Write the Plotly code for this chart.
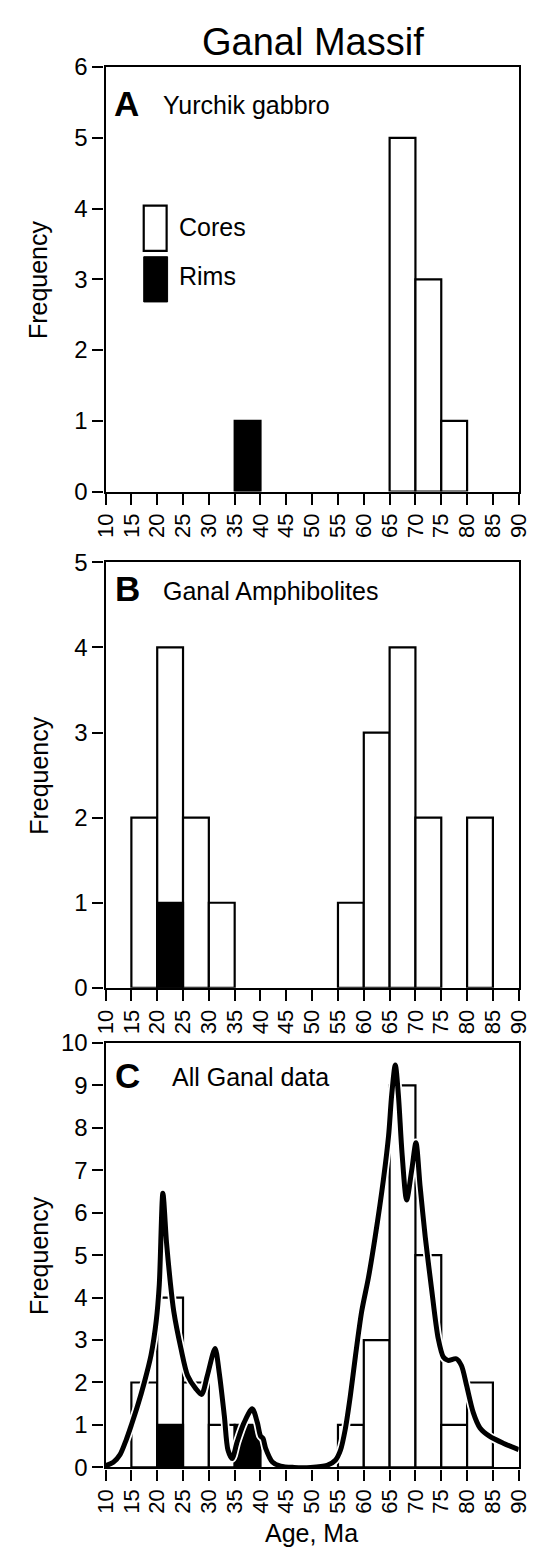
import plotly.graph_objects as go

W, H = 546, 1560

# ---------------- data ----------------
x_tick_vals = [10, 15, 20, 25, 30, 35, 40, 45, 50, 55, 60, 65, 70, 75, 80, 85, 90]
x_tick_text = ["10", "15", "20", "25", "30", "35", "40", "45", "50", "55",
               "60", "65", "70", "75", "80", "85", "90"]

# Panel A: Yurchik gabbro (bin start, count)
a_core_bins = [65, 70, 75]
a_core_counts = [5, 3, 1]
a_rim_bins = [35]
a_rim_counts = [1]

# Panel B: Ganal Amphibolites
b_core_bins = [15, 20, 25, 30, 55, 60, 65, 70, 80]
b_core_counts = [2, 4, 2, 1, 1, 3, 4, 2, 2]
b_rim_bins = [20]
b_rim_counts = [1]

# Panel C: All Ganal data
c_core_bins = [15, 20, 25, 30, 55, 60, 65, 70, 75, 80]
c_core_counts = [2, 4, 2, 1, 1, 3, 9, 5, 1, 2]
c_rim_bins = [20, 35]
c_rim_counts = [1, 1]

# probability density curve (panel C)
kde_age = [10.0, 11.5, 12.8, 14.0, 15.0, 16.2, 17.5, 18.8, 19.8, 20.4, 21.1,
           21.8, 22.5, 23.2, 24.6, 25.9, 27.5, 28.6, 29.7, 31.2, 32.0, 33.0,
           33.7, 34.5, 35.5, 36.8, 38.4, 39.4, 40.0, 40.5, 41.0, 42.3, 43.9,
           46.5, 49.7, 52.9, 54.5, 55.5, 56.4, 57.4, 58.4, 59.6, 60.9, 62.2,
           63.8, 64.8, 65.4, 66.1, 66.7, 67.4, 68.3, 69.3, 70.1, 70.9, 71.9,
           73.1, 74.4, 75.4, 76.3, 77.9, 78.9, 79.9, 81.2, 82.5, 84.4, 87.0,
           90.0]
kde_freq = [0.04, 0.12, 0.30, 0.65, 1.00, 1.45, 2.00, 2.64, 3.44, 4.30, 6.46,
            5.30, 4.40, 3.68, 2.80, 2.16, 1.85, 1.72, 2.16, 2.80, 2.24, 1.21,
            0.41, 0.21, 0.61, 1.05, 1.38, 1.05, 0.74, 0.68, 0.45, 0.13, 0.03,
            0.0, 0.0, 0.05, 0.17, 0.41, 0.89, 1.69, 2.64, 3.68, 4.47, 5.43,
            6.78, 7.81, 8.77, 9.48, 8.77, 7.41, 6.30, 7.02, 7.65, 6.62, 5.43,
            4.23, 3.04, 2.60, 2.52, 2.56, 2.40, 1.93, 1.29, 0.93, 0.73, 0.57,
            0.42]

# ---------------- layout helpers ----------------
FONT = "Liberation Sans, Arial, Helvetica, sans-serif"


def px(x):
    return x / W


def py(y):
    return 1 - y / H


X0, X1 = 97, 530
panels = [  # (top px, bottom px, y max)
    (54, 486, 6),
    (558, 991, 5),
    (1047, 1479, 10),
]

fig = go.Figure()


def add_bars(bins, counts, color, ax):
    fig.add_trace(go.Bar(
        x=bins, y=counts, width=5, offset=0,
        marker=dict(color=color, line=dict(color="black", width=2.2)),
        xaxis="x" + ax, yaxis="y" + ax, showlegend=False, hoverinfo="skip",
    ))


add_bars(a_core_bins, a_core_counts, "white", "")
add_bars(a_rim_bins, a_rim_counts, "black", "")
add_bars(b_core_bins, b_core_counts, "white", "2")
add_bars(b_rim_bins, b_rim_counts, "black", "2")
add_bars(c_core_bins, c_core_counts, "white", "3")
add_bars(c_rim_bins, c_rim_counts, "black", "3")

fig.add_trace(go.Scatter(
    x=kde_age, y=kde_freq, mode="lines",
    line=dict(color="white", width=8.5, shape="spline", smoothing=0.8),
    xaxis="x3", yaxis="y3", showlegend=False, hoverinfo="skip"))
fig.add_trace(go.Scatter(
    x=kde_age, y=kde_freq, mode="lines",
    line=dict(color="black", width=5, shape="spline", smoothing=0.8),
    xaxis="x3", yaxis="y3", showlegend=False, hoverinfo="skip"))

layout = dict(
    width=W, height=H, margin=dict(l=0, r=0, t=0, b=0),
    paper_bgcolor="white", plot_bgcolor="white",
    barmode="overlay", showlegend=False,
    font=dict(family=FONT, color="black", size=22),
)

for i, (top, bot, ymax) in enumerate(panels):
    sfx = "" if i == 0 else str(i + 1)
    layout["xaxis" + sfx] = dict(
        domain=[px(X0), px(X1)], anchor="y" + sfx, range=[10, 90],
        tickmode="array", tickvals=x_tick_vals, ticktext=x_tick_text,
        tickangle=-90, ticks="outside", ticklen=11, tickwidth=2,
        tickcolor="black", showline=True, linewidth=2.2, linecolor="black",
        mirror=True, showgrid=False, zeroline=False,
        tickfont=dict(size=22, family=FONT, color="black"),
    )
    layout["yaxis" + sfx] = dict(
        domain=[py(bot), py(top)], anchor="x" + sfx, range=[0, ymax],
        dtick=1, ticks="outside", ticklen=11, tickwidth=2, tickcolor="black",
        showline=True, linewidth=2.2, linecolor="black", mirror=True,
        showgrid=False, zeroline=False,
        tickfont=dict(size=24, family=FONT, color="black"),
    )

annotations = []


def text(x, y, s, size, xanchor="left", bold=False, angle=0):
    annotations.append(dict(
        xref="paper", yref="paper", x=px(x), y=py(y), text=s,
        showarrow=False, xanchor=xanchor, yanchor="middle", textangle=angle,
        font=dict(size=size, family=FONT, color="black",
                  weight="bold" if bold else "normal"),
    ))


text(314, 28, "Ganal Massif", 38, xanchor="center")
text(104, 91, "A", 35, bold=True)
text(155, 93, "Yurchik gabbro", 25)
text(105, 585, "B", 35, bold=True)
text(155, 587, "Ganal Amphibolites", 25)
text(105, 1080, "C", 35, bold=True)
text(165, 1082, "All Ganal data", 25)
text(172, 217, "Cores", 25)
text(172, 267, "Rims", 25)
for top, bot, _ in panels:
    text(27, (top + bot) / 2, "Frequency", 25, xanchor="center", angle=-90)
text(313, 1546, "Age, Ma", 25, xanchor="center")

layout["annotations"] = annotations
layout["shapes"] = [
    dict(type="rect", xref="paper", yref="paper",
         x0=px(137), x1=px(161), y0=py(241), y1=py(195),
         fillcolor="white", line=dict(color="black", width=2.2)),
    dict(type="rect", xref="paper", yref="paper",
         x0=px(137), x1=px(162), y0=py(293), y1=py(247),
         fillcolor="black", line=dict(color="black", width=1)),
]

fig.update_layout(**layout)
fig.write_html("out.html")
